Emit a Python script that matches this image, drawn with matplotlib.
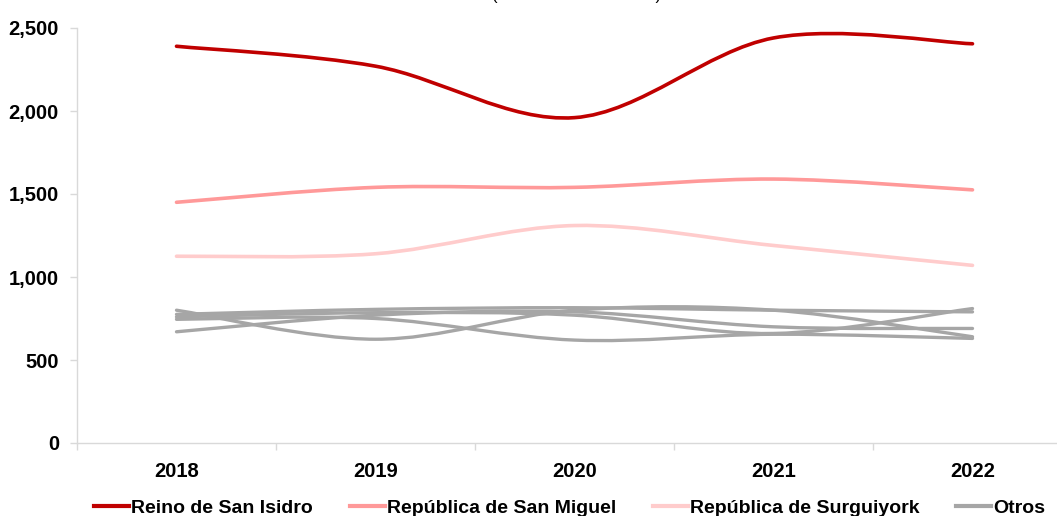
import matplotlib
matplotlib.use("Agg")
import matplotlib.pyplot as plt
from matplotlib.path import Path
from matplotlib.patches import PathPatch
from matplotlib.lines import Line2D
import numpy as np

plt.rcParams['font.family'] = ['Liberation Sans', 'DejaVu Sans']

years = ["2018", "2019", "2020", "2021", "2022"]
san_isidro = [2390, 2270, 1960, 2440, 2405]
san_miguel = [1450, 1540, 1540, 1590, 1525]
surguiyork = [1125, 1140, 1310, 1190, 1070]
otros_1 = [800, 625, 800, 800, 640]
otros_2 = [775, 805, 815, 800, 790]
otros_3 = [745, 750, 620, 655, 630]
otros_4 = [670, 770, 790, 700, 690]
otros_5 = [760, 785, 770, 660, 810]

series_names = ["Reino de San Isidro", "República de San Miguel",
                "República de Surguiyork", "Otros"]
colors = ["#C00000", "#FF9999", "#FFCCCC", "#A6A6A6"]

W, H = 1057, 516
fig = plt.figure(figsize=(W / 100, H / 100), dpi=100)
ax = fig.add_axes([77 / W, 1 - 443 / H, (1072 - 77) / W, (443 - 28) / H])


def smooth_path(xs, ys):
    pts = np.column_stack([xs, ys]).astype(float)
    n = len(pts)
    verts = [pts[0]]
    codes = [Path.MOVETO]
    for i in range(n - 1):
        p0 = pts[i - 1] if i > 0 else pts[i]
        p1 = pts[i]
        p2 = pts[i + 1]
        p3 = pts[i + 2] if i + 2 < n else pts[i + 1]
        c1 = p1 + (p2 - p0) / 6.0
        c2 = p2 - (p3 - p1) / 6.0
        verts += [c1, c2, p2]
        codes += [Path.CURVE4] * 3
    return Path(verts, codes)


def draw(vals, color, lw=2.6, z=3):
    xs = np.arange(len(vals))
    patch = PathPatch(smooth_path(xs, vals), facecolor="none", edgecolor=color,
                      lw=lw, capstyle="round", joinstyle="round", zorder=z)
    ax.add_patch(patch)


for s in [otros_1, otros_2, otros_3, otros_4, otros_5]:
    draw(s, colors[3], lw=2.4, z=2)
draw(surguiyork, colors[2], z=3)
draw(san_miguel, colors[1], z=3)
draw(san_isidro, colors[0], z=4)

ax.set_xlim(-0.5, 4.5)
ax.set_ylim(0, 2500)
ax.set_yticks([0, 500, 1000, 1500, 2000, 2500])
ax.set_yticklabels(["0", "500", "1,000", "1,500", "2,000", "2,500"],
                   fontsize=14.5, fontweight="bold")
ax.set_xticks(range(len(years)))
ax.set_xticklabels(years, fontsize=14.5, fontweight="bold")
ax.set_xticks(np.arange(-0.5, 5.0, 1.0), minor=True)
ax.tick_params(axis="x", which="major", length=0, pad=14)
ax.tick_params(axis="x", which="minor", length=5, color="#D9D9D9", width=1)
ax.tick_params(axis="y", length=5, color="#D9D9D9", width=1, pad=8)

for sp in ["top", "right"]:
    ax.spines[sp].set_visible(False)
for sp in ["left", "bottom"]:
    ax.spines[sp].set_color("#D9D9D9")
    ax.spines[sp].set_linewidth(1)

handles = [Line2D([0], [0], color=c, lw=3) for c in colors]
fig.legend(handles, series_names, loc="center", ncol=4,
           bbox_to_anchor=(0.539, 1 - 508 / H), frameon=False,
           prop={"size": 14, "weight": "bold"}, handlelength=1.8,
           handletextpad=0.1, columnspacing=1.9)

fig.text(0.545, 1.0, "(en miles de unidades)", ha="center", va="baseline",
         fontsize=12)

fig.savefig("out.png", dpi=100)
